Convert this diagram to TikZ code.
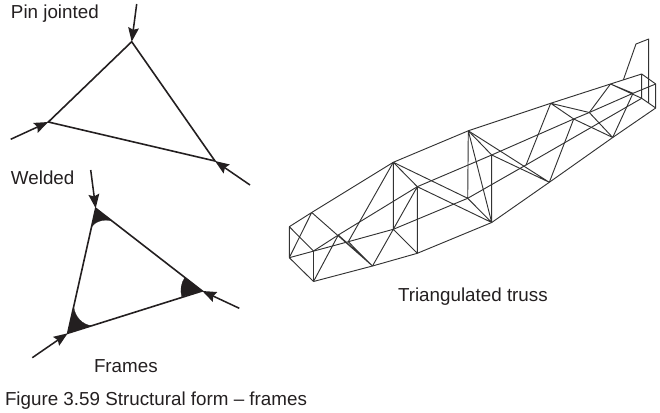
\documentclass[tikz,border=0pt]{standalone}
\usepackage{fontspec}
\setmainfont{Liberation Sans}
\usetikzlibrary{arrows.meta}
\definecolor{ink}{HTML}{231F20}
\definecolor{truss}{HTML}{333333}
\tikzset{
  member/.style={draw=ink,line width=1.2pt},
  load/.style={draw=ink,line width=1.15pt,-{Stealth[length=10.5pt,width=8pt,inset=1.5pt]}},
  gusset/.style={fill=ink,draw=ink,line width=0.2pt},
  bar/.style={draw=truss,line width=0.7pt,line join=round},
  label/.style={anchor=base west,inner sep=0pt,outer sep=0pt,text=ink,font=\fontsize{14.1}{16}\selectfont},
}
\begin{document}
\begin{tikzpicture}[x=0.75pt,y=-0.75pt]
\useasboundingbox (0,0) rectangle (660,413);
% pin jointed
\coordinate (pt) at (131.7,41.7);
\coordinate (pl) at (48.3,122);
\coordinate (pr) at (215,161);
\coordinate (pta) at (136.7,4);
\coordinate (pla) at (10.7,139.3);
\coordinate (pra) at (250,185);
\draw[member] (pt) -- (pl) -- (pr) -- cycle;
\draw[load] (pta) -- (pt);
\draw[load] (pla) -- (pl);
\draw[load] (pra) -- (pr);
% welded
\coordinate (wt) at (95.7,208.3);
\coordinate (wl) at (67.7,333.3);
\coordinate (wr) at (202.3,291);
\coordinate (wta) at (90.7,170);
\coordinate (wla) at (32.3,357.7);
\coordinate (wra) at (239.3,308.3);
\draw[gusset] (wt) -- (91.7,226.7) .. controls (95,222) and (103,218.5) .. (111.7,221) -- cycle;
\draw[gusset] (wl) -- (74,308.3) .. controls (75,316) and (82,325) .. (91.7,325.7) -- cycle;
\draw[gusset] (wr) -- (185,277.3) .. controls (181,283) and (180,290) .. (181.7,296.7) -- cycle;
\draw[member] (wt) -- (wl) -- (wr) -- cycle;
\draw[load] (wta) -- (wt);
\draw[load] (wla) -- (wl);
\draw[load] (wra) -- (wr);
% truss
\coordinate (A) at (289.3,226.7);
\coordinate (B) at (289.3,257.7);
\coordinate (C) at (311.7,212.5);
\coordinate (D) at (313.5,251);
\coordinate (E) at (313.5,281.5);
\coordinate (D2) at (338.3,235);
\coordinate (H2) at (348.3,241.7);
\coordinate (J) at (372.5,266);
\coordinate (F) at (393.3,162.3);
\coordinate (G) at (417.3,186.7);
\coordinate (H) at (393.3,229.3);
\coordinate (I) at (417.3,253.3);
\coordinate (K) at (468.3,130.8);
\coordinate (L) at (491.7,155);
\coordinate (M) at (467.7,198.3);
\coordinate (N) at (491.7,222.5);
\coordinate (O) at (550.7,103.3);
\coordinate (U) at (573.7,119);
\coordinate (Z) at (526,165);
\coordinate (Y) at (549.3,182.3);
\coordinate (P) at (610.5,84);
\coordinate (V) at (589.3,112.5);
\coordinate (W) at (612.7,137.5);
\coordinate (X) at (633,93.3);
\coordinate (Q) at (641.7,74);
\coordinate (R) at (655.7,84);
\coordinate (S) at (655.7,108);
\coordinate (T) at (641.7,98.3);
\coordinate (f1) at (623.3,80);
\coordinate (f2) at (636,44);
\coordinate (f3) at (648.7,39);
\coordinate (f4) at (648.7,103);
% longerons
\draw[bar] (C) -- (F) -- (K) -- (O) -- (P) -- (Q);
\draw[bar] (D) -- (D2) -- (G) -- (L) -- (U) -- (V) -- (X) -- (R);
\draw[bar] (B) -- (H2) -- (H) -- (M) -- (Z) -- (T);
\draw[bar] (E) -- (J) -- (I) -- (N) -- (Y) -- (W) -- (S);
% end frames
\draw[bar] (A) -- (C) (A) -- (B) (A) -- (D) (C) -- (B) (D) -- (E) (B) -- (E);
\draw[bar] (Q) -- (R) -- (S) -- (T) -- (Q);
% bracing
\draw[bar] (C) -- (J) (E) -- (D2) (D2) -- (J) (F) -- (H2) (H2) -- (J);
\draw[bar] (F) -- (H) (F) -- (G) (G) -- (H) (G) -- (I) (H) -- (I) (H) -- (J);
\draw[bar] (F) -- (M) (G) -- (N) (K) -- (M) (K) -- (N) (K) -- (L) (L) -- (N) (M) -- (N);
\draw[bar] (K) -- (Y) (L) -- (Y) (O) -- (Z) (O) -- (U) (O) -- (V) (U) -- (Y) (U) -- (W);
\draw[bar] (V) -- (P) (V) -- (W) (X) -- (W) (P) -- (T) (P) -- (X);
% fin
\draw[bar] (f1) -- (f2) -- (f3) -- (f4);
% labels
\node[label] (l1) at (11,18.3) {Pin jointed};
\node[label] (l2) at (11,185) {Welded};
\node[label] (l3) at (94,372.7) {Frames};
\node[label] (l4) at (398,301.7) {Triangulated truss};
\node[label] (l5) at (5,405) {Figure 3.59 Structural form – frames};
\end{tikzpicture}
\end{document}
